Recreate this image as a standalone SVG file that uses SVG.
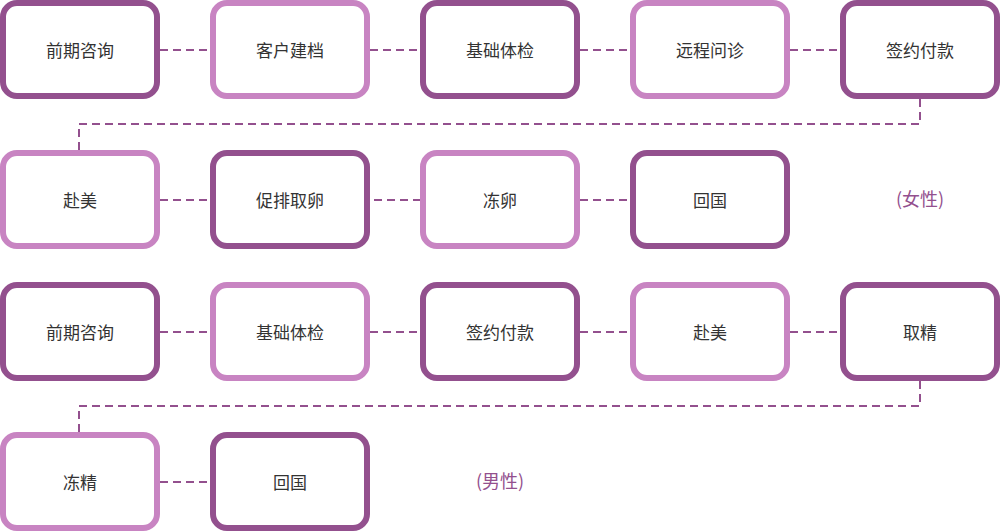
<svg xmlns="http://www.w3.org/2000/svg" width="1000" height="532" viewBox="0 0 1000 532">
<style>
.box rect{fill:#fff;stroke-width:6}
.d rect{stroke:#93508E}
.l rect{stroke:#C884C2}
.box text{font-family:"Noto Sans CJK SC","Noto Sans",sans-serif;font-size:17px;fill:#333;text-anchor:middle;dominant-baseline:central}
.conn path{fill:none;stroke:#93508E;stroke-width:2;stroke-dasharray:8 5}
.note{font-family:"Noto Sans CJK SC","Noto Sans",sans-serif;font-size:18px;fill:#93508E;text-anchor:middle;dominant-baseline:central}
</style>
<g class="conn">
<path d="M160 50H210M370 50H420M580 50H630M790 50H840"/>
<path d="M920 99V124H79V150"/>
<path d="M160 200H210M374 200H420M580 200H630"/>
<path d="M160 332H210M370 332H420M580 332H630M790 332H840"/>
<path d="M920 381V406H79V432"/>
<path d="M160 482H210"/>
</g>
<g id="n1" class="box d"><rect x="3" y="3" width="154" height="93" rx="14"/><text x="80" y="49">前期咨询</text></g>
<g id="n2" class="box l"><rect x="213" y="3" width="154" height="93" rx="14"/><text x="290" y="49">客户建档</text></g>
<g id="n3" class="box d"><rect x="423" y="3" width="154" height="93" rx="14"/><text x="500" y="49">基础体检</text></g>
<g id="n4" class="box l"><rect x="633" y="3" width="154" height="93" rx="14"/><text x="710" y="49">远程问诊</text></g>
<g id="n5" class="box d"><rect x="843" y="3" width="154" height="93" rx="14"/><text x="920" y="49">签约付款</text></g>
<g id="n6" class="box l"><rect x="3" y="153" width="154" height="93" rx="14"/><text x="80" y="199">赴美</text></g>
<g id="n7" class="box d"><rect x="213" y="153" width="154" height="93" rx="14"/><text x="290" y="199">促排取卵</text></g>
<g id="n8" class="box l"><rect x="423" y="153" width="154" height="93" rx="14"/><text x="500" y="199">冻卵</text></g>
<g id="n9" class="box d"><rect x="633" y="153" width="154" height="93" rx="14"/><text x="710" y="199">回国</text></g>
<text class="note" x="920" y="198">(女性)</text>
<g id="m1" class="box d"><rect x="3" y="285" width="154" height="93" rx="14"/><text x="80" y="331">前期咨询</text></g>
<g id="m2" class="box l"><rect x="213" y="285" width="154" height="93" rx="14"/><text x="290" y="331">基础体检</text></g>
<g id="m3" class="box d"><rect x="423" y="285" width="154" height="93" rx="14"/><text x="500" y="331">签约付款</text></g>
<g id="m4" class="box l"><rect x="633" y="285" width="154" height="93" rx="14"/><text x="710" y="331">赴美</text></g>
<g id="m5" class="box d"><rect x="843" y="285" width="154" height="93" rx="14"/><text x="920" y="331">取精</text></g>
<g id="m6" class="box l"><rect x="3" y="435" width="154" height="93" rx="14"/><text x="80" y="481">冻精</text></g>
<g id="m7" class="box d"><rect x="213" y="435" width="154" height="93" rx="14"/><text x="290" y="481">回国</text></g>
<text class="note" x="500" y="480">(男性)</text>
</svg>
